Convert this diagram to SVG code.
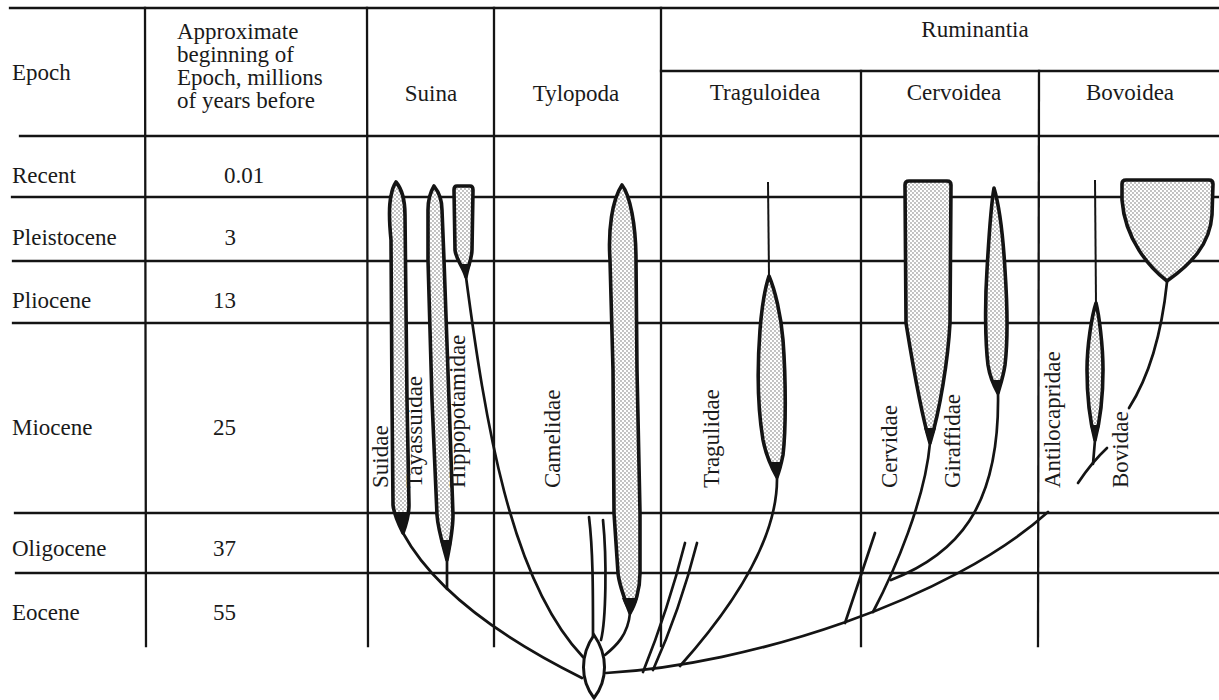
<svg xmlns="http://www.w3.org/2000/svg" width="1219" height="700" viewBox="0 0 1219 700">
<style>
.g{stroke:#141414;stroke-width:2.3;fill:none;stroke-linecap:square}
.br{stroke:#141414;stroke-width:2.7;fill:none;stroke-linecap:round}
.thin{stroke:#141414;stroke-width:2;fill:none}
.sh{fill:url(#dots);stroke:#141414;stroke-width:3.6;stroke-linejoin:round}
.blk{fill:#141414}
.lens{fill:#fff;stroke:#141414;stroke-width:3}
text{font-family:"Liberation Serif","Times New Roman",serif;font-size:23px;fill:#1a1a1a}
.c{text-anchor:middle}
.r{text-anchor:end}
</style>
<defs>
<pattern id="dots" width="4" height="4" patternUnits="userSpaceOnUse">
<rect width="4" height="4" fill="#fff"/>
<circle cx="1" cy="1" r="0.65" fill="#555"/>
<circle cx="3" cy="3" r="0.65" fill="#555"/>
</pattern>
</defs>
<rect width="1219" height="700" fill="#fff"/>

<g id="grid">
<line class="g" x1="10" y1="8" x2="1219" y2="8"/>
<line class="g" x1="661" y1="71" x2="1219" y2="71"/>
<line class="g" x1="20" y1="136" x2="1219" y2="136"/>
<line class="g" x1="12" y1="197" x2="1219" y2="197"/>
<line class="g" x1="13" y1="261" x2="1219" y2="261"/>
<line class="g" x1="13" y1="323" x2="1219" y2="323"/>
<line class="g" x1="15" y1="513" x2="1219" y2="513"/>
<line class="g" x1="16" y1="573" x2="1219" y2="573"/>
<line class="g" x1="145" y1="8" x2="146" y2="646"/>
<line class="g" x1="367" y1="8" x2="368" y2="646"/>
<line class="g" x1="494" y1="8" x2="494" y2="646"/>
<line class="g" x1="661" y1="8" x2="661" y2="646"/>
<line class="g" x1="861" y1="71" x2="861" y2="646"/>
<line class="g" x1="1039" y1="71" x2="1038" y2="646"/>
</g>

<g id="header">
<text x="12" y="80">Epoch</text>
<text x="177" y="39">Approximate</text>
<text x="177" y="62">beginning of</text>
<text x="177" y="85">Epoch, millions</text>
<text x="177" y="108">of years before</text>
<text class="c" x="431" y="101">Suina</text>
<text class="c" x="576" y="101">Tylopoda</text>
<text class="c" x="975" y="37">Ruminantia</text>
<text class="c" x="765" y="100">Traguloidea</text>
<text class="c" x="954" y="100">Cervoidea</text>
<text class="c" x="1130" y="100">Bovoidea</text>
</g>

<g id="epochs">
<text x="12" y="183">Recent</text>
<text x="12" y="245">Pleistocene</text>
<text x="12" y="308">Pliocene</text>
<text x="12" y="435">Miocene</text>
<text x="12" y="556">Oligocene</text>
<text x="12" y="620">Eocene</text>
<text x="224" y="183">0.01</text>
<text class="r" x="236" y="245">3</text>
<text class="r" x="236" y="308">13</text>
<text class="r" x="236" y="435">25</text>
<text class="r" x="236" y="556">37</text>
<text class="r" x="236" y="620">55</text>
</g>

<g id="connectors">
<path class="br" d="M403,533 Q445,610 582,678"/>
<path class="br" d="M447,560 L447,589"/>
<path class="br" d="M466,277 C485,420 510,580 583,657"/>
<path class="br" d="M593,636 C593,590 593,550 589,517"/>
<path class="br" d="M601,640 C606,620 607,560 603,520"/>
<path class="br" d="M630,613 C628,635 616,646 605,655"/>
<path class="br" d="M606,673 C750,665 950,600 1048,512"/>
<path class="br" d="M643,672 Q668,610 685,543"/>
<path class="br" d="M653,670 Q680,610 697,543"/>
<path class="br" d="M680,666 C730,610 778,540 777,477"/>
<path class="thin" d="M768,182 L769,276"/>
<path class="br" d="M845,623 L875,533"/>
<path class="br" d="M873,612 C895,570 925,500 930,443"/>
<path class="br" d="M891,580 C955,555 1000,510 998,393"/>
<path class="thin" d="M1095,180 L1096,303"/>
<path class="br" d="M1095,440 L1093,464"/>
<path class="br" d="M1107,448 Q1092,462 1078,483"/>
<path class="br" d="M1167,282 C1162,330 1150,375 1129,408"/>
</g>

<g id="root">
<path class="lens" d="M594,635 C580,655 580,680 594,698 C608,680 608,655 594,635 Z"/>
</g>

<g id="suidae">
<path class="sh" d="M396,182 C401,188 405,200 405,215 L407,400 L409,505 C409,515 406,525 403,533 C399,525 394,515 393,505 L392,400 L391,240 C389,220 389,205 391,196 C392,190 394,185 396,182 Z"/>
<path class="blk" d="M394,512 L409,512 C408,520 406,526 403,533 C400,526 396,520 394,512 Z"/>
<text transform="translate(388,488) rotate(-90)">Suidae</text>
</g>

<g id="tayassuidae">
<path class="sh" d="M434,186 C438,191 442,200 442,210 L444,260 L449,400 L453,515 C453,530 450,545 447,560 C443,545 438,530 437,515 L432,400 L428,260 L428,210 C428,200 431,191 434,186 Z"/>
<path class="blk" d="M440,540 L452,540 C451,548 449,554 447,560 C445,554 442,548 440,540 Z"/>
<text transform="translate(422,488) rotate(-90)">Tayassuidae</text>
</g>

<g id="hippopotamidae">
<path class="sh" d="M457,186 L470,186 Q473,186 473,190 L472,250 C472,258 468,266 466,277 C463,266 456,260 455,250 L454,190 Q454,186 457,186 Z"/>
<path class="blk" d="M460,264 L471,264 C469,269 467,273 466,277 C464,273 462,269 460,264 Z"/>
<text transform="translate(465,488) rotate(-90)">Hippopotamidae</text>
</g>

<g id="camelidae">
<path class="sh" d="M622,185 C630,195 636,225 636,260 L637,370 L640,513 L640,573 C640,590 635,605 630,613 C625,600 619,585 618,573 L614,513 L613,370 L610,260 C608,230 612,200 622,185 Z"/>
<path class="blk" d="M622,598 L638,598 C636,604 633,609 630,613 C627,609 624,604 622,598 Z"/>
<text transform="translate(560,488) rotate(-90)">Camelidae</text>
</g>

<g id="tragulidae">
<path class="sh" d="M769,276 C775,290 781,315 783,340 C786,380 786,430 783,455 C781,465 779,472 777,477 C773,470 766,455 763,440 C758,410 757,370 760,330 C762,305 765,288 769,276 Z"/>
<path class="blk" d="M771,462 L782,462 C780,468 779,472 777,477 C775,472 773,468 771,462 Z"/>
<text transform="translate(719,488) rotate(-90)">Tragulidae</text>
</g>

<g id="cervidae">
<path class="sh" d="M905,185 Q905,181 909,181 L947,181 Q951,181 951,185 L950,323 C948,360 940,410 930,443 C920,410 912,360 906,323 Z"/>
<path class="blk" d="M924,428 L936,428 C934,434 932,438 930,443 C928,438 926,434 924,428 Z"/>
<text transform="translate(897,488) rotate(-90)">Cervidae</text>
</g>

<g id="giraffidae">
<path class="sh" d="M994,188 C999,205 1003,235 1005,270 C1007,300 1008,340 1005,365 C1003,378 1000,386 998,393 C994,386 990,378 988,365 C985,340 985,300 987,270 C989,235 991,205 994,188 Z"/>
<path class="blk" d="M992,380 L1003,380 C1001,386 1000,389 998,393 C996,389 994,386 992,380 Z"/>
<text transform="translate(960,488) rotate(-90)">Giraffidae</text>
</g>

<g id="antilocapridae">
<path class="sh" d="M1096,303 C1099,315 1103,345 1103,370 C1103,400 1099,425 1095,440 C1091,425 1087,400 1087,370 C1087,345 1092,315 1096,303 Z"/>
<path class="blk" d="M1090,425 L1100,425 C1098,432 1097,436 1095,440 C1093,436 1092,432 1090,425 Z"/>
<text transform="translate(1060,488) rotate(-90)">Antilocapridae</text>
</g>

<g id="bovidae">
<path class="sh" d="M1122,184 Q1122,180 1126,180 L1209,180 Q1213,180 1213,184 L1212,215 C1210,245 1190,265 1167,281 C1150,268 1125,240 1122,200 Z"/>
<text transform="translate(1128,488) rotate(-90)">Bovidae</text>
</g>
</svg>
